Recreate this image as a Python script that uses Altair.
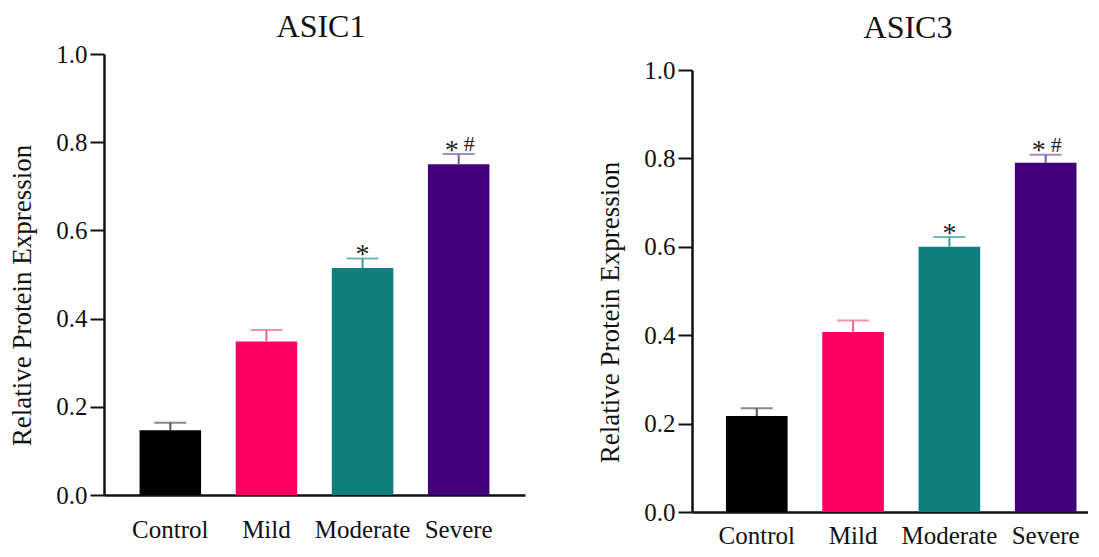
import altair as alt
import pandas as pd

groups = ["Control", "Mild", "Moderate", "Severe"]
bar_colors = ["#000000", "#FF0062", "#0F7F7E", "#42007C"]
err_colors = ["#555555", "#F0609A", "#3A9896", "#7A5AAE"]

asic1_mean = [0.147, 0.348, 0.515, 0.750]
asic1_upper = [0.164, 0.374, 0.536, 0.773]
asic3_mean = [0.217, 0.407, 0.600, 0.790]
asic3_upper = [0.235, 0.433, 0.622, 0.808]
sig_star = ["", "", "*", "*"]
sig_hash = ["", "", "", "#"]
y_ticks = [0.0, 0.2, 0.4, 0.6, 0.8, 1.0]

FONT = "Liberation Serif"
INK = "#111111"


def panel(title, mean, upper, width, height, yrange, xscale, title_x, title_y,
          label_pad, axis_title_y):
    df = pd.DataFrame({"group": groups, "mean": mean, "upper": upper,
                       "star": sig_star, "hash": sig_hash})
    base = alt.Chart(df)
    x = alt.X("group:N", sort=groups, scale=xscale,
              axis=alt.Axis(title=None, labelAngle=0, ticks=False, tickSize=0,
                            labelPadding=label_pad, labelFontSize=25, labelFont=FONT,
                            labelColor=INK, domainWidth=2.5, domainColor=INK))
    yscale = alt.Scale(domain=[0, 1], range=yrange, nice=False, zero=True)
    y = alt.Y("mean:Q", scale=yscale,
              axis=alt.Axis(title="Relative Protein Expression", values=y_ticks, format=".1f",
                            grid=False, tickSize=14, tickWidth=2, tickColor=INK,
                            domainWidth=2.5, domainColor=INK, labelPadding=3,
                            labelFontSize=25, labelFont=FONT, labelColor=INK,
                            titleFont=FONT, titleFontSize=27, titleFontWeight="normal",
                            titleColor=INK, titlePadding=19, titleY=axis_title_y))
    xs = alt.X("group:N", sort=groups)
    bars = base.mark_bar().encode(
        x=x, y=y,
        color=alt.Color("group:N", scale=alt.Scale(domain=groups, range=bar_colors), legend=None),
    )
    err_color = alt.Color("group:N", scale=alt.Scale(domain=groups, range=err_colors), legend=None)
    stems = base.mark_rule(strokeWidth=2).encode(
        x=xs, y=alt.Y("mean:Q"), y2="upper:Q", color=err_color)
    caps = base.mark_tick(size=32, thickness=2, orient="horizontal").encode(
        x=xs, y=alt.Y("upper:Q"), color=err_color)
    star_c = base.transform_filter("datum.star != '' && datum.hash == ''").mark_text(
        font=FONT, fontSize=28, baseline="alphabetic", align="center", dy=4.5, color="#222222"
    ).encode(x=xs, y=alt.Y("upper:Q"), text="star:N")
    star_l = base.transform_filter("datum.star != '' && datum.hash != ''").mark_text(
        font=FONT, fontSize=28, baseline="alphabetic", align="right", dx=0, dy=4.5, color="#222222"
    ).encode(x=xs, y=alt.Y("upper:Q"), text="star:N")
    hashes = base.transform_filter("datum.hash != ''").mark_text(
        font=FONT, fontSize=22, baseline="alphabetic", align="left", dx=5, dy=-3, color="#222222"
    ).encode(x=xs, y=alt.Y("upper:Q"), text="hash:N")
    ttl = alt.Chart(pd.DataFrame({"t": [title]})).mark_text(
        font=FONT, fontSize=32, baseline="alphabetic", align="center", color=INK
    ).encode(text="t:N", x=alt.value(title_x), y=alt.value(title_y))
    return alt.layer(bars, stems, caps, star_c, star_l, hashes, ttl).resolve_scale(
        color="independent").properties(width=width, height=height)


left = panel("ASIC1", asic1_mean, asic1_upper, 421, 441, [441, 0],
             alt.Scale(paddingInner=0.36, paddingOuter=0.37), 217, -17, 22, 241)
right = panel("ASIC3", asic3_mean, asic3_upper, 396, 458, [458, 16],
              alt.Scale(paddingInner=0.36, paddingOuter=0.236, align=0.747), 216, -16, 11, 258)

chart = alt.hconcat(left, right, spacing=71).properties(
    padding={"left": 0, "top": 3, "right": 0, "bottom": 0}
).configure(font=FONT).configure_view(stroke=None)

chart.save("out.html", embed_options={"renderer": "svg", "actions": False})
